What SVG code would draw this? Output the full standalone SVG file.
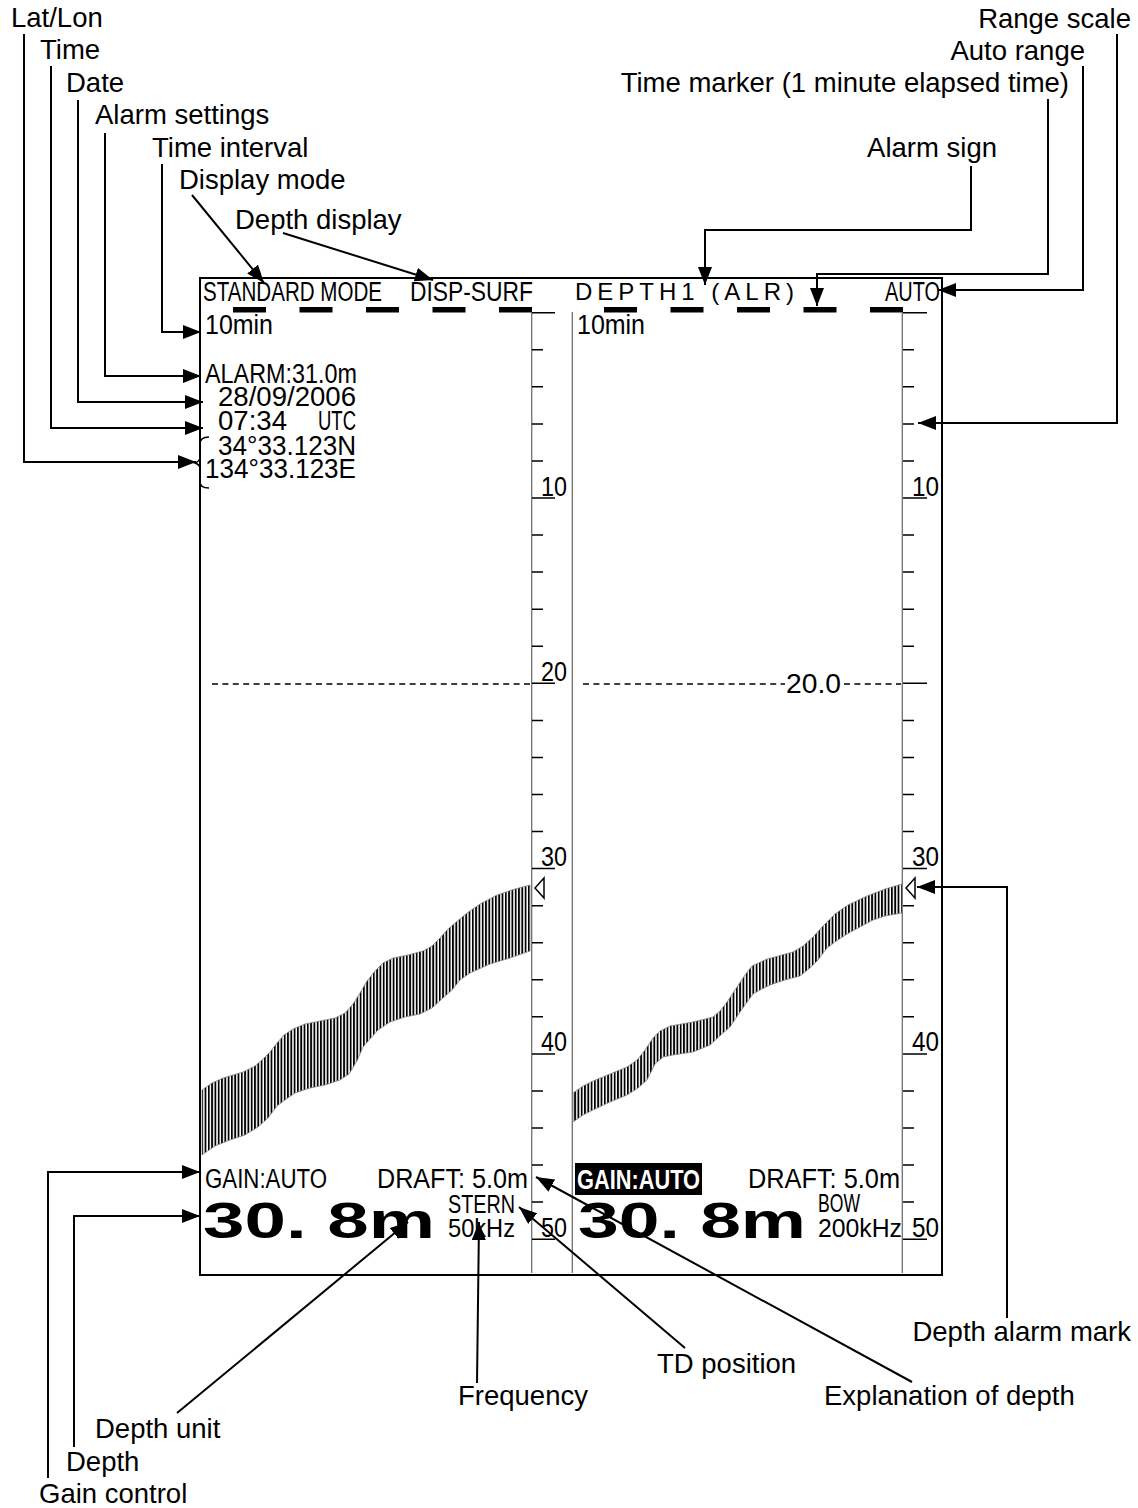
<svg xmlns="http://www.w3.org/2000/svg" width="1138" height="1508" viewBox="0 0 1138 1508">
<defs>
<style>
.lbl{font-family:"Liberation Sans",Arial,sans-serif;font-size:27.5px;fill:#000}
.scr{font-family:"Liberation Sans",Arial,sans-serif;font-size:27px;fill:#000}
.sm{font-size:25px}
.big{font-family:"Liberation Sans",Arial,sans-serif;font-weight:bold;font-size:50px;fill:#000}
.lead{fill:none;stroke:#000;stroke-width:2;marker-end:url(#ah)}
.scl{stroke:#707070;stroke-width:1.3;fill:none}
.tick{stroke:#000;stroke-width:1.5;fill:none}
.dash{stroke:#000;stroke-width:1.3;stroke-dasharray:6 4.4;fill:none}
.echo{fill:url(#hatch);stroke:#888;stroke-width:0.8}
.amk{fill:#fff;stroke:#000;stroke-width:1.5}
</style>
<marker id="ah" markerUnits="userSpaceOnUse" markerWidth="18" markerHeight="14" refX="18" refY="7" orient="auto">
<path d="M0,0 L18,7 L0,14 z" fill="#000"/>
</marker>
<pattern id="hatch" patternUnits="userSpaceOnUse" width="3.3" height="10">
<rect x="0" y="0" width="1.8" height="10" fill="#000"/>
</pattern>
</defs>
<rect width="1138" height="1508" fill="#fff"/>

<g id="screen">
<rect x="200" y="278" width="742" height="997" fill="none" stroke="#000" stroke-width="2"/>
<g id="header">
<text class="scr" x="203" y="301" textLength="179" lengthAdjust="spacingAndGlyphs">STANDARD MODE</text>
<text class="scr" x="410" y="301" textLength="123" lengthAdjust="spacingAndGlyphs">DISP-SURF</text>
<text x="575" y="300" style="font-family:'Liberation Sans',Arial,sans-serif;font-size:24px;letter-spacing:5px">DEPTH1 (ALR)</text>
<text class="scr" x="885" y="301" textLength="55" lengthAdjust="spacingAndGlyphs">AUTO</text>
</g>
<g id="time-markers" fill="#000">
<rect x="233" y="307" width="33" height="5.5"/>
<rect x="299.5" y="307" width="33" height="5.5"/>
<rect x="366" y="307" width="33" height="5.5"/>
<rect x="432.5" y="307" width="33" height="5.5"/>
<rect x="499" y="307" width="33" height="5.5"/>
<rect x="604" y="307" width="33" height="5.5"/>
<rect x="670.5" y="307" width="33" height="5.5"/>
<rect x="737" y="307" width="33" height="5.5"/>
<rect x="803.5" y="307" width="33" height="5.5"/>
<rect x="870" y="307" width="33" height="5.5"/>
</g>
<g id="scales">
<path class="scl" d="M531.7,312 V1273 M572.3,312 V1273 M902.3,312 V1273"/>
<path class="tick" d="M532,349.8h11M532,386.8h11M532,423.9h11M532,460.9h11M532,535.1h11M532,572.1h11M532,609.2h11M532,646.2h11M532,720.4h11M532,757.4h11M532,794.5h11M532,831.5h11M532,905.7h11M532,942.7h11M532,979.8h11M532,1016.8h11M532,1091h11M532,1128h11M532,1165.1h11M532,1202.1h11"/>
<path class="tick" d="M532,312.7h23M532,498h23M532,683.3h23M532,868.6h23M532,1053.9h23M532,1239.2h23"/>
<path class="tick" d="M903,349.8h11M903,386.8h11M903,423.9h11M903,460.9h11M903,535.1h11M903,572.1h11M903,609.2h11M903,646.2h11M903,720.4h11M903,757.4h11M903,794.5h11M903,831.5h11M903,905.7h11M903,942.7h11M903,979.8h11M903,1016.8h11M903,1091h11M903,1128h11M903,1165.1h11M903,1202.1h11"/>
<path class="tick" d="M903,312.7h24M903,498h24M903,683.3h24M903,868.6h24M903,1053.9h24M903,1239.2h24"/>
<text class="scr" x="541" y="496" textLength="26" lengthAdjust="spacingAndGlyphs">10</text>
<text class="scr" x="541" y="681" textLength="26" lengthAdjust="spacingAndGlyphs">20</text>
<text class="scr" x="541" y="866" textLength="26" lengthAdjust="spacingAndGlyphs">30</text>
<text class="scr" x="541" y="1051" textLength="26" lengthAdjust="spacingAndGlyphs">40</text>
<text class="scr" x="541" y="1237" textLength="26" lengthAdjust="spacingAndGlyphs">50</text>
<text class="scr" x="912" y="496" textLength="27" lengthAdjust="spacingAndGlyphs">10</text>
<text class="scr" x="912" y="866" textLength="27" lengthAdjust="spacingAndGlyphs">30</text>
<text class="scr" x="912" y="1051" textLength="27" lengthAdjust="spacingAndGlyphs">40</text>
<text class="scr" x="912" y="1237" textLength="27" lengthAdjust="spacingAndGlyphs">50</text>
</g>
<g id="alarm-line">
<path class="dash" d="M212,684 H531 M583,684 H785 M844,684 H901"/>
<text class="scr" x="786" y="693" textLength="55" lengthAdjust="spacingAndGlyphs">20.0</text>
</g>
<g id="left-info">
<text class="scr" x="205" y="334" textLength="68" lengthAdjust="spacingAndGlyphs">10min</text>
<text class="scr" x="205" y="383" textLength="152" lengthAdjust="spacingAndGlyphs">ALARM:31.0m</text>
<text class="scr" x="218" y="406" textLength="138" lengthAdjust="spacingAndGlyphs">28/09/2006</text>
<text class="scr" x="218" y="430" textLength="69" lengthAdjust="spacingAndGlyphs">07:34</text>
<text class="scr" x="318" y="430" textLength="38" lengthAdjust="spacingAndGlyphs">UTC</text>
<text class="scr" x="218" y="455" textLength="138" lengthAdjust="spacingAndGlyphs">34°33.123N</text>
<text class="scr" x="205" y="478" textLength="151" lengthAdjust="spacingAndGlyphs">134°33.123E</text>
<path d="M209,437 C203,437 200,439 200,444 L200,457 C200,460 198,462 195,463 C198,464 200,466 200,469 L200,482 C200,486 203,488 209,488" fill="none" stroke="#000" stroke-width="1.5"/>
</g>
<text class="scr" x="577" y="334" textLength="68" lengthAdjust="spacingAndGlyphs">10min</text>
<g id="echo-left">
<path class="echo" d="M202,1090 L212,1083 223,1078 243,1072 255,1066 263,1059 270,1052 277,1043 284,1035 293,1029 305,1024 320,1021 335,1018 345,1013 353,1004 360,993 367,981 375,971 383,963 393,958 408,955 423,951 432,946 440,938 447,930 455,923 467,913 480,904 497,895 515,889 530,885 L530,951 510,958 490,964 470,973 460,980 452,990 443,998 432,1008 420,1014 405,1017 390,1022 378,1030 370,1039 363,1047 357,1061 349,1074 340,1080 325,1085 310,1088 295,1093 285,1100 277,1106 268,1118 258,1127 245,1135 230,1140 215,1146 202,1155 Z"/>
<polygon class="amk" points="544,878 535,888 544,898"/>
</g>
<g id="echo-right">
<path class="echo" d="M573,1093 L583,1086 593,1081 610,1074 627,1067 637,1060 645,1050 653,1038 660,1031 670,1026 693,1022 713,1017 720,1011 727,1002 737,987 745,975 752,966 767,959 793,952 803,946 813,937 823,926 835,914 848,905 867,896 885,889 902,884 L902,913 885,916 873,920 860,927 847,934 835,942 827,948 818,960 810,968 800,976 785,980 770,985 760,990 753,994 745,1005 738,1015 730,1027 723,1033 710,1045 693,1052 673,1055 663,1057 655,1064 647,1080 638,1088 627,1095 610,1102 593,1110 583,1115 573,1122 Z"/>
<polygon class="amk" points="915,878 906,888 915,898"/>
</g>
<g id="bottom-left">
<text class="scr" x="205" y="1188" textLength="122" lengthAdjust="spacingAndGlyphs">GAIN:AUTO</text>
<text class="scr" x="377" y="1188" textLength="151" lengthAdjust="spacingAndGlyphs">DRAFT: 5.0m</text>
<text class="big" x="203" y="1238" textLength="232" lengthAdjust="spacingAndGlyphs">30. 8m</text>
<text class="scr sm" x="448" y="1213" textLength="67" lengthAdjust="spacingAndGlyphs">STERN</text>
<text class="scr sm" x="448" y="1237" textLength="67" lengthAdjust="spacingAndGlyphs">50kHz</text>
</g>
<g id="bottom-right">
<rect x="575" y="1163" width="127" height="32" fill="#000"/>
<text class="scr" x="577" y="1189" textLength="123" lengthAdjust="spacingAndGlyphs" style="fill:#fff;font-weight:bold">GAIN:AUTO</text>
<text class="scr" x="748" y="1188" textLength="152" lengthAdjust="spacingAndGlyphs">DRAFT: 5.0m</text>
<text class="big" x="578" y="1238" textLength="228" lengthAdjust="spacingAndGlyphs">30. 8m</text>
<text class="scr sm" x="818" y="1212" textLength="42" lengthAdjust="spacingAndGlyphs">BOW</text>
<text class="scr sm" x="818" y="1237" textLength="84" lengthAdjust="spacingAndGlyphs">200kHz</text>
</g>
</g>

<g id="labels">
<text id="lbl-latlon" class="lbl" x="11" y="27">Lat/Lon</text>
<text id="lbl-time" class="lbl" x="40" y="59">Time</text>
<text id="lbl-date" class="lbl" x="66" y="92">Date</text>
<text id="lbl-alarm" class="lbl" x="95" y="124">Alarm settings</text>
<text id="lbl-interval" class="lbl" x="152" y="157">Time interval</text>
<text id="lbl-mode" class="lbl" x="179" y="189">Display mode</text>
<text id="lbl-depthdisp" class="lbl" x="235" y="229">Depth display</text>
<text id="lbl-range" class="lbl" x="1131" y="28" text-anchor="end">Range scale</text>
<text id="lbl-auto" class="lbl" x="1085" y="60" text-anchor="end">Auto range</text>
<text id="lbl-tmark" class="lbl" x="1069" y="92" text-anchor="end">Time marker (1 minute elapsed time)</text>
<text id="lbl-asign" class="lbl" x="997" y="157" text-anchor="end">Alarm sign</text>
<text id="lbl-amark" class="lbl" x="1131" y="1341" text-anchor="end">Depth alarm mark</text>
<text id="lbl-td" class="lbl" x="657" y="1373">TD position</text>
<text id="lbl-freq" class="lbl" x="458" y="1405">Frequency</text>
<text id="lbl-expl" class="lbl" x="824" y="1405">Explanation of depth</text>
<text id="lbl-unit" class="lbl" x="95" y="1438">Depth unit</text>
<text id="lbl-depth" class="lbl" x="66" y="1471">Depth</text>
<text id="lbl-gain" class="lbl" x="39" y="1503">Gain control</text>
</g>

<g id="connectors">
<path class="lead" d="M24,34 V462 H196"/>
<path class="lead" d="M51,66 V428 H203"/>
<path class="lead" d="M78,100 V402 H203"/>
<path class="lead" d="M105,133 V376 H201"/>
<path class="lead" d="M162,164 V332 H201"/>
<path class="lead" d="M192,195 L264,283"/>
<path class="lead" d="M283,233 L433,280"/>
<path class="lead" d="M1117,34 V423 H918"/>
<path class="lead" d="M1083,66 V290 H938"/>
<path class="lead" d="M1048,99 V274 H817 V306"/>
<path class="lead" d="M971,166 V230 H705 V285"/>
<path class="lead" d="M48,1478 V1172 H200"/>
<path class="lead" d="M74,1447 V1216 H200"/>
<path class="lead" d="M177,1413 L408,1222"/>
<path class="lead" d="M477,1383 L479,1222"/>
<path class="lead" d="M685,1348 L519,1207"/>
<path class="lead" d="M912,1382 L536,1177"/>
<path class="lead" d="M1007,1318 V887 H917"/>
</g>
</svg>
